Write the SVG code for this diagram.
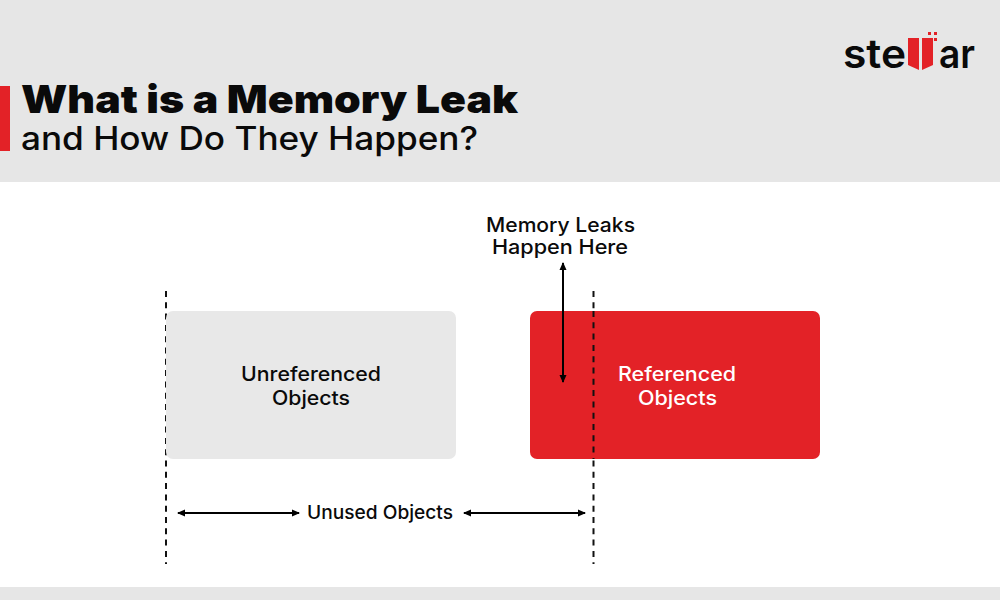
<svg xmlns="http://www.w3.org/2000/svg" width="1000" height="600" viewBox="0 0 1000 600">
<style>
text{font-family:Inter,"Open Sans","Liberation Sans",sans-serif;fill:#0a0a0a}
.band{fill:#e6e6e6}
.red{fill:#e32227}
.lbl{font-size:20px;font-weight:500;text-anchor:middle}
.dash{stroke:#111;stroke-width:2;stroke-dasharray:6 5.300;fill:none}
.arr{stroke:#000;stroke-width:2;fill:none;marker-start:url(#ah);marker-end:url(#ah)}
</style>
<defs><marker id="ah" viewBox="0 0 8 8" refX="7" refY="4" markerWidth="8" markerHeight="8" markerUnits="userSpaceOnUse" orient="auto-start-reverse"><path d="M0 0.500L8 4L0 7.500Z" fill="#000"/></marker></defs>
<rect class="band" width="1000" height="182"/>
<rect class="band" y="587" width="1000" height="13"/>
<rect class="red" y="86" width="10" height="65"/>
<text x="21" y="113" font-size="39" font-weight="900" textLength="497" lengthAdjust="spacingAndGlyphs">What is a Memory Leak</text>
<text x="21" y="150" font-size="32" font-weight="500" textLength="457" lengthAdjust="spacingAndGlyphs">and How Do They Happen?</text>
<g id="logo">
<text x="843" y="68" font-size="40" font-weight="600" textLength="63" lengthAdjust="spacingAndGlyphs">ste</text>
<text x="939" y="68" font-size="40" font-weight="600" textLength="36" lengthAdjust="spacingAndGlyphs">ar</text>
<path class="red" d="M908 38H919V70L908 65Z"/>
<path class="red" d="M922 38H933V65L922 70Z"/>
<path class="red" d="M928 32h3v3h-3zM934 32h3v3h-3zM934 38h3v3h-3z"/>
</g>
<g id="connectors">
<line class="dash" x1="166" y1="291" x2="166" y2="564"/>
<line class="dash" x1="593.500" y1="291" x2="593.500" y2="564"/>
</g>
<g id="unreferenced">
<rect x="166" y="311" width="290" height="148" rx="7" fill="#e8e8e8"/>
<text class="lbl" x="311" y="381" textLength="140" lengthAdjust="spacingAndGlyphs">Unreferenced</text>
<text class="lbl" x="311" y="405" textLength="78" lengthAdjust="spacingAndGlyphs">Objects</text>
</g>
<g id="referenced">
<rect class="red" x="530" y="311" width="290" height="148" rx="7"/>
<line class="dash" x1="593.500" y1="311" x2="593.500" y2="459"/>
<text class="lbl" x="677" y="381" style="fill:#fff" textLength="118" lengthAdjust="spacingAndGlyphs">Referenced</text>
<text class="lbl" x="677.500" y="405" style="fill:#fff" textLength="79" lengthAdjust="spacingAndGlyphs">Objects</text>
</g>
<g id="arrows">
<line class="arr" x1="563" y1="263" x2="563" y2="382"/>
<line class="arr" x1="178" y1="513" x2="299" y2="513"/>
<line class="arr" x1="464" y1="513" x2="585" y2="513"/>
</g>
<g id="labels">
<text class="lbl" x="560.500" y="232" textLength="149" lengthAdjust="spacingAndGlyphs">Memory Leaks</text>
<text class="lbl" x="560" y="254" textLength="136" lengthAdjust="spacingAndGlyphs">Happen Here</text>
<text class="lbl" x="380" y="519" style="font-size:18.500px" textLength="146" lengthAdjust="spacingAndGlyphs">Unused Objects</text>
</g>
</svg>
